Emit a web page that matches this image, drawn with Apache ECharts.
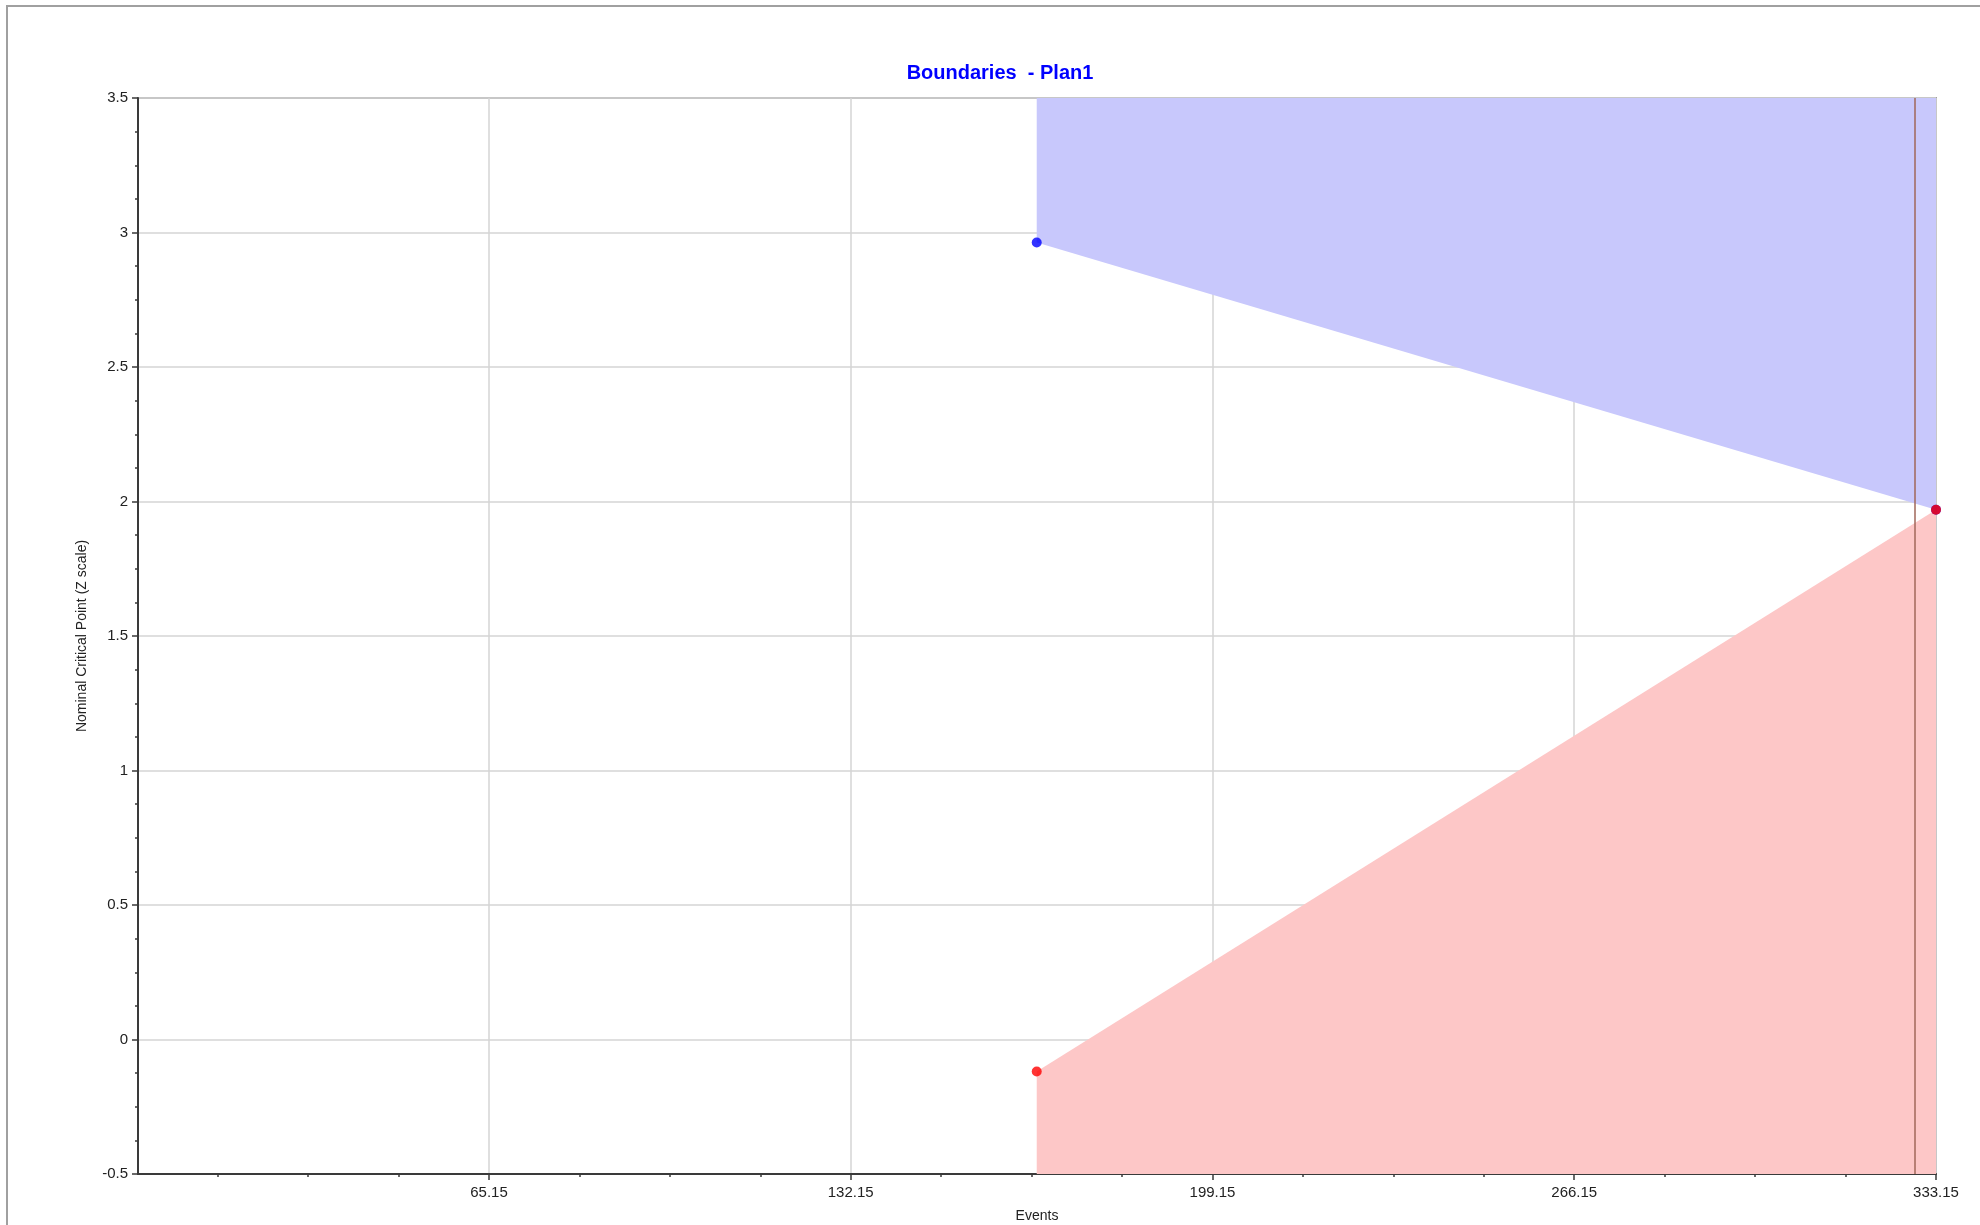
<!DOCTYPE html>
<html>
<head>
<meta charset="utf-8">
<title>Boundaries - Plan1</title>
<script src="https://cdn.jsdelivr.net/npm/echarts@6/dist/echarts.min.js"></script>
<style>
  html, body { margin: 0; padding: 0; background: #fff; }
  #chart { width: 1980px; height: 1225px; }
</style>
</head>
<body>
<div id="chart"></div>
<script>
// analysis looks (events) and the boundary values on the Z scale
const looks = [166.6, 333.15];
const upperBound = [2.963, 1.969];
const lowerBound = [-0.119, 1.969];
const currentEvents = 329.2;

// axes
const xRange = [0.15, 333.15];
const xMajorTicks = [65.15, 132.15, 199.15, 266.15, 333.15];
const yRange = [-0.5, 3.5];
const yStep = 0.5;

// four minor intervals between the labelled x ticks, running back to the axis start
const xStep = xMajorTicks[1] - xMajorTicks[0];
const xMinorTicks = [];
for (const m of xMajorTicks) {
  for (let j = 1; j < 4; j++) {
    const v = +(m - j * xStep / 4).toFixed(4);
    if (v > xRange[0]) xMinorTicks.push(v);
  }
}

const font = '"Liberation Sans", Arial, sans-serif';
const pairs = (ys) => looks.map((x, i) => [x, ys[i]]);

const chart = echarts.init(document.getElementById('chart'));

chart.setOption({
  animation: false,
  backgroundColor: '#fff',
  graphic: [{
    type: 'rect',
    shape: { x: 7, y: 6, width: 2100, height: 1400 },
    style: { fill: 'none', stroke: '#a0a0a0', lineWidth: 2 },
    silent: true
  }],
  title: {
    text: 'Boundaries  - Plan1',
    left: 995,
    top: 58,
    textAlign: 'center',
    textStyle: { color: '#0000ff', fontSize: 20, fontWeight: 'bold', fontFamily: font }
  },
  grid: {
    left: 138, top: 98, right: 44, bottom: 51,
    outerBoundsMode: 'none',
    show: true, borderColor: '#a0a0a0', borderWidth: 2, backgroundColor: '#fff'
  },
  xAxis: [{
    type: 'value',
    min: xRange[0],
    max: xRange[1],
    name: 'Events',
    nameLocation: 'middle',
    nameGap: 35,
    nameTextStyle: { color: '#222', fontSize: 14, fontFamily: font },
    axisLine: { show: true, onZero: false, lineStyle: { color: '#3a3a3a', width: 2 } },
    axisTick: { show: true, length: 6, customValues: xMajorTicks, lineStyle: { color: '#3a3a3a', width: 1.5 } },
    axisLabel: { customValues: xMajorTicks, margin: 11, color: '#222', fontSize: 15, fontFamily: font,
                 formatter: (v) => v.toFixed(2) },
    splitLine: { show: true, lineStyle: { color: '#d4d4d4', width: 1.5 } }
  }, {
    type: 'value',
    position: 'bottom',
    min: xRange[0],
    max: xRange[1],
    axisLine: { show: false, onZero: false },
    axisTick: { show: true, length: 3, customValues: xMinorTicks, lineStyle: { color: '#3a3a3a', width: 1.5 } },
    axisLabel: { show: false },
    splitLine: { show: false }
  }],
  yAxis: {
    type: 'value',
    min: yRange[0],
    max: yRange[1],
    interval: yStep,
    name: 'Nominal Critical Point (Z scale)',
    nameLocation: 'middle',
    nameRotate: 90,
    nameGap: 49,
    nameTextStyle: { color: '#222', fontSize: 14, fontFamily: font },
    axisLine: { show: true, onZero: false, lineStyle: { color: '#3a3a3a', width: 2 } },
    axisTick: { show: true, length: 6, lineStyle: { color: '#3a3a3a', width: 1.5 } },
    minorTick: { show: true, splitNumber: 4, length: 3, lineStyle: { color: '#3a3a3a', width: 1.5 } },
    axisLabel: { margin: 10, color: '#222', fontSize: 15, fontFamily: font },
    splitLine: { show: true, lineStyle: { color: '#d4d4d4', width: 1.5 } }
  },
  series: [{
    name: 'upper region',
    type: 'line',
    data: pairs(upperBound),
    showSymbol: false,
    lineStyle: { width: 0 },
    areaStyle: { color: '#c8c8fc', opacity: 1, origin: 'end' },
    z: 2
  }, {
    name: 'lower region',
    type: 'line',
    data: pairs(lowerBound),
    showSymbol: false,
    lineStyle: { width: 0 },
    areaStyle: { color: '#fdc7c7', opacity: 1, origin: 'start' },
    z: 2,
    markLine: {
      silent: true,
      symbol: 'none',
      label: { show: false },
      lineStyle: { color: '#a0675a', width: 1.5, type: 'solid' },
      data: [{ xAxis: currentEvents }]
    }
  }, {
    name: 'upper',
    type: 'scatter',
    data: pairs(upperBound),
    symbol: 'circle',
    symbolSize: 10,
    itemStyle: { color: '#0000ff' },
    z: 4
  }, {
    name: 'lower',
    type: 'scatter',
    data: pairs(lowerBound),
    symbol: 'circle',
    symbolSize: 10,
    itemStyle: { color: '#ff0000' },
    z: 5
  }]
});
</script>
</body>
</html>
